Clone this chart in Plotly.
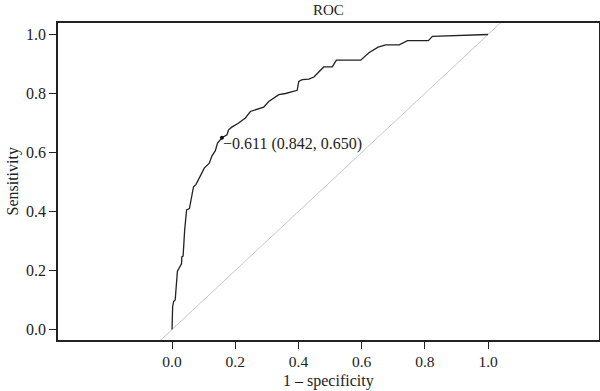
import plotly.graph_objects as go

# ROC curve (1 - specificity, sensitivity)
fpr = [0.0, 0.0, 0.002, 0.005, 0.010, 0.017, 0.022, 0.030, 0.031, 0.035, 0.040,
       0.046, 0.055, 0.068, 0.076, 0.094, 0.102, 0.118, 0.126, 0.137, 0.144,
       0.158, 0.174, 0.179, 0.189, 0.211, 0.232, 0.248, 0.269, 0.290, 0.306,
       0.327, 0.338, 0.359, 0.396, 0.401, 0.412, 0.433, 0.449, 0.480, 0.507,
       0.520, 0.597, 0.623, 0.652, 0.676, 0.719, 0.745, 0.811, 0.824, 1.0]
tpr = [0.0, 0.060, 0.078, 0.095, 0.100, 0.198, 0.206, 0.223, 0.246, 0.249, 0.337,
       0.405, 0.410, 0.484, 0.492, 0.530, 0.547, 0.564, 0.588, 0.606, 0.632,
       0.650, 0.660, 0.677, 0.686, 0.700, 0.717, 0.739, 0.747, 0.754, 0.773,
       0.790, 0.796, 0.800, 0.811, 0.841, 0.847, 0.849, 0.856, 0.890, 0.890,
       0.913, 0.913, 0.938, 0.957, 0.965, 0.965, 0.979, 0.979, 0.994, 1.0]

diag = [-0.5, 1.5]

thr_label = "\u22120.611 (0.842, 0.650)"
thr_x = [1 - 0.842]
thr_y = [0.650]

tick_vals = [0.0, 0.2, 0.4, 0.6, 0.8, 1.0]
tick_text = ["0.0", "0.2", "0.4", "0.6", "0.8", "1.0"]

FONT = "Liberation Serif"
INK = "#222222"

fig = go.Figure()
fig.add_trace(go.Scatter(x=diag, y=diag, mode="lines",
                         line=dict(color="#c8c8c8", width=1), hoverinfo="skip"))
fig.add_trace(go.Scatter(x=fpr, y=tpr, mode="lines",
                         line=dict(color=INK, width=1.3)))
fig.add_trace(go.Scatter(x=thr_x, y=thr_y, mode="markers",
                         marker=dict(color="#111111", size=4)))

fig.add_annotation(x=thr_x[0], y=thr_y[0], text=thr_label, showarrow=False,
                   xanchor="left", yanchor="top", xshift=-1, yshift=5,
                   font=dict(family=FONT, size=16, color=INK))

# axis titles and chart title
fig.add_annotation(xref="paper", yref="paper", x=0.5, y=0, yshift=-41,
                   text="1 \u2013 specificity", showarrow=False,
                   xanchor="center", yanchor="middle",
                   font=dict(family=FONT, size=16, color=INK))
fig.add_annotation(xref="paper", yref="paper", x=0, y=0.5, xshift=-46,
                   text="Sensitivity", showarrow=False, textangle=-90,
                   xanchor="center", yanchor="middle",
                   font=dict(family=FONT, size=16, color=INK))
fig.add_annotation(xref="paper", yref="paper", x=0.5, y=1, yshift=13,
                   text="ROC", showarrow=False,
                   xanchor="center", yanchor="middle",
                   font=dict(family=FONT, size=15, color=INK))

axis_common = dict(
    showgrid=False, zeroline=False, showline=True, linecolor=INK,
    linewidth=1.5, mirror=True, ticks="outside", ticklen=7, tickwidth=1.2,
    tickcolor=INK, tickvals=tick_vals, ticktext=tick_text, automargin=False,
)

fig.update_layout(
    width=600, height=391,
    margin=dict(l=58, r=1, t=23, b=51),
    plot_bgcolor="white", paper_bgcolor="white",
    showlegend=False,
    xaxis=dict(range=[-0.3608, 1.351], ticklabelstandoff=0,
               tickfont=dict(family=FONT, size=15.5, color=INK), **axis_common),
    yaxis=dict(range=[-0.0356, 1.039],
               tickfont=dict(family=FONT, size=16, color=INK), **axis_common),
)

fig.write_html("out.html",
               config={"displayModeBar": False},
               post_script="document.body.style.margin='0';"
                           "document.body.style.overflow='hidden';")
